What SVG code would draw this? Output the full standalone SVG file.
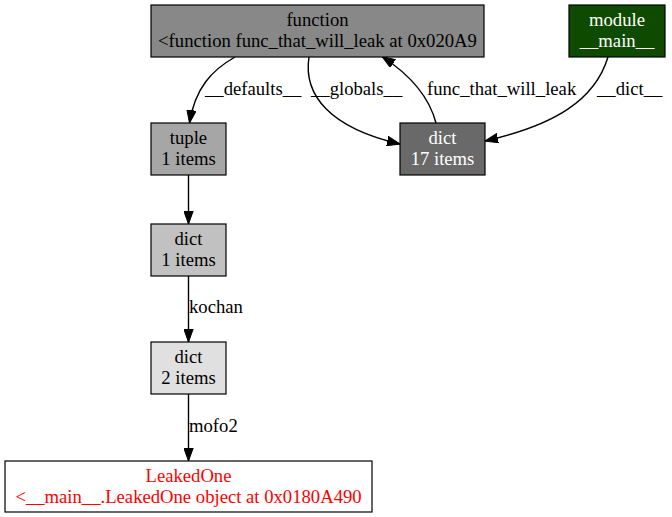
<svg xmlns="http://www.w3.org/2000/svg" width="672" height="517" viewBox="0 0 672 517" font-family="'Liberation Serif', 'Times New Roman', Times, serif">
<defs>
<marker id="arr" viewBox="0 0 13 10" refX="13" refY="5" markerUnits="userSpaceOnUse" markerWidth="13" markerHeight="10" orient="auto">
<path d="M0,0.3 L13,5 L0,9.7 z" fill="#000" stroke="#000" stroke-width="1"/>
</marker>
</defs>
<style>
text{font-family:'Liberation Serif','Times New Roman',Times,serif;font-size:18.67px;text-anchor:middle;fill:#000}
.lbl{text-anchor:start}
.w{fill:#fff}
.r{fill:#f00}
rect{stroke:#000;stroke-width:1.2}
.e{fill:none;stroke:#000;stroke-width:1.4;marker-end:url(#arr)}
</style>
<rect width="672" height="517" fill="#fff" style="stroke:none"/>
<g id="connectors">
<path class="e" d="M235,57 C212,70 195,88 189.5,123"/>
<path class="e" d="M309,57 C303,95 330,128 400,144"/>
<path class="e" d="M436,123 C430,100 415,78 382,56.5"/>
<path class="e" d="M608,57 C595,100 555,125 485,141"/>
<path class="e" d="M188.5,175 L188.5,224"/>
<path class="e" d="M188.5,276 L188.5,342"/>
<path class="e" d="M188.5,394 L188.5,461"/>
<text class="lbl" x="205" y="95">__defaults__</text>
<text class="lbl" x="311" y="95">__globals__</text>
<text class="lbl" x="427" y="95">func_that_will_leak</text>
<text class="lbl" x="597" y="95">__dict__</text>
<text class="lbl" x="189" y="313">kochan</text>
<text class="lbl" x="189" y="432">mofo2</text>
</g>
<g id="function">
<rect x="151" y="5" width="333" height="52" fill="#888888"/>
<text x="317.5" y="26">function</text>
<text x="317.5" y="47">&lt;function func_that_will_leak at 0x020A9</text>
</g>
<g id="module">
<rect x="569" y="5" width="96" height="52" fill="#0e4a00"/>
<text class="w" x="617" y="26">module</text>
<text class="w" x="617" y="47">__main__</text>
</g>
<g id="tuple">
<rect x="151" y="123" width="75" height="52" fill="#a6a6a6"/>
<text x="188.5" y="144">tuple</text>
<text x="188.5" y="165">1 items</text>
</g>
<g id="dict17">
<rect x="400" y="123" width="85" height="52" fill="#696969"/>
<text class="w" x="442.5" y="144">dict</text>
<text class="w" x="442.5" y="165">17 items</text>
</g>
<g id="dict1">
<rect x="151" y="224" width="75" height="52" fill="#c1c1c1"/>
<text x="188.5" y="245">dict</text>
<text x="188.5" y="266">1 items</text>
</g>
<g id="dict2">
<rect x="151" y="342" width="75" height="52" fill="#e0e0e0"/>
<text x="188.5" y="363">dict</text>
<text x="188.5" y="384">2 items</text>
</g>
<g id="leaked">
<rect x="5" y="461" width="367" height="51" fill="#fff"/>
<text class="r" x="188.5" y="482">LeakedOne</text>
<text class="r" x="188.5" y="503">&lt;__main__.LeakedOne object at 0x0180A490</text>
</g>
</svg>
